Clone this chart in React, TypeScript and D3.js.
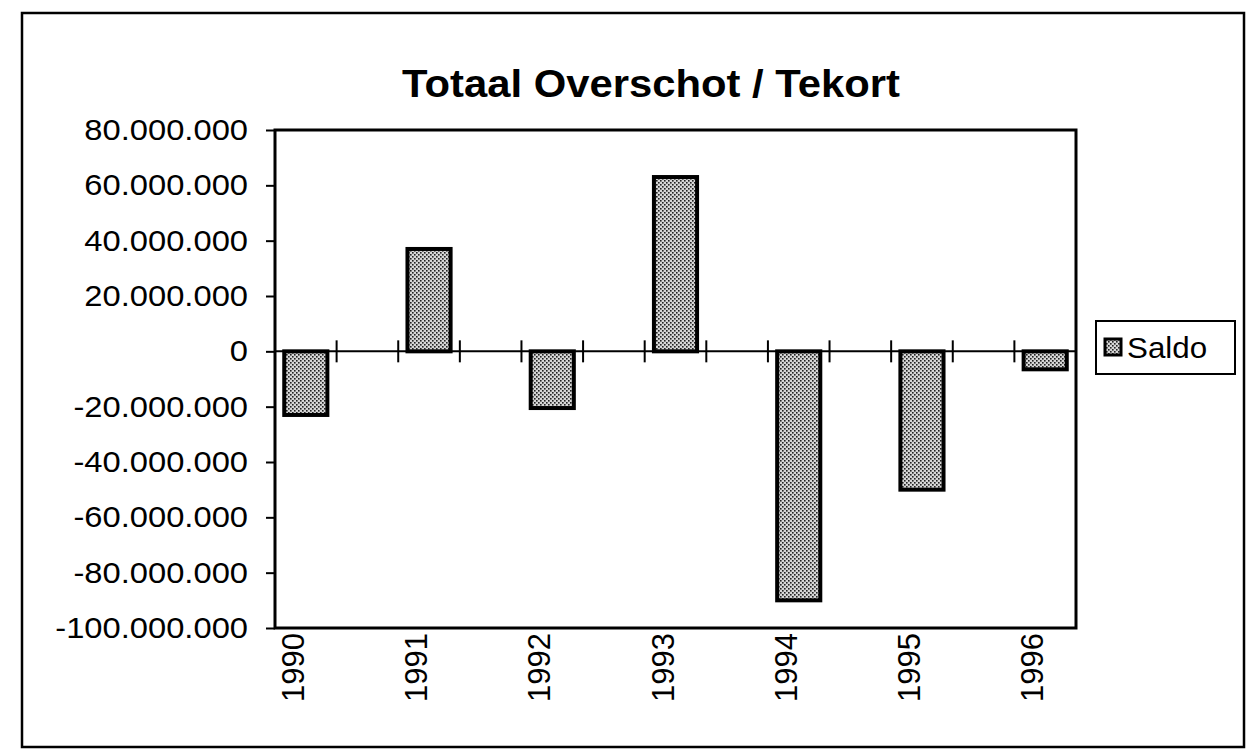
import React, { useEffect, useRef } from "react";
import * as d3 from "d3";

// categories (the sheet has an empty row between every year)
const yearLabels = ["1990", "", "1991", "", "1992", "", "1993", "", "1994", "", "1995", "", "1996"];
const saldo: (number | null)[] = [
  -23000000, null, 37000000, null, -20500000, null, 63000000, null, -90000000, null, -50000000, null, -6500000,
];
const yTicks = [80000000, 60000000, 40000000, 20000000, 0, -20000000, -40000000, -60000000, -80000000, -100000000];
const seriesName = "Saldo";
const chartTitle = "Totaal Overschot / Tekort";

const App = () => {
  const svgRef = useRef<SVGSVGElement>(null);

  useEffect(() => {
    const svg = d3.select(svgRef.current);
    svg.selectAll("*").remove();

    const width = 1252;
    const height = 749;
    const plot = { left: 275, right: 1076, top: 130, bottom: 628 };
    const font = "'Liberation Sans', Arial, sans-serif";

    // the scanned original is a bit wider than the font, stretch text horizontally
    const stretch = (sel: any, f: number) => {
      sel.each(function (this: SVGTextElement) {
        const len = this.getComputedTextLength();
        d3.select(this).attr("textLength", len * f).attr("lengthAdjust", "spacingAndGlyphs");
      });
    };

    // hatch pattern like the old Excel fill
    const defs = svg.append("defs");
    const pat = defs
      .append("pattern")
      .attr("id", "dots")
      .attr("width", 4)
      .attr("height", 4)
      .attr("patternUnits", "userSpaceOnUse");
    pat.append("rect").attr("width", 4).attr("height", 4).attr("fill", "#d6d6d6");
    pat.append("rect").attr("x", 0).attr("y", 0).attr("width", 1.6).attr("height", 1.6).attr("fill", "#222");
    pat.append("rect").attr("x", 2).attr("y", 2).attr("width", 1.6).attr("height", 1.6).attr("fill", "#222");

    svg.append("rect").attr("width", width).attr("height", height).attr("fill", "#fff");

    // outer chart frame
    svg
      .append("rect")
      .attr("x", 22)
      .attr("y", 13)
      .attr("width", 1222)
      .attr("height", 734)
      .attr("fill", "none")
      .attr("stroke", "#000")
      .attr("stroke-width", 2.5);

    // title
    const title = svg
      .append("text")
      .attr("x", 651)
      .attr("y", 97)
      .attr("text-anchor", "middle")
      .style("font-family", font)
      .style("font-weight", "bold")
      .style("font-size", "38px")
      .text(chartTitle);
    stretch(title, 1.1);

    const idx = d3.range(yearLabels.length).map(String);
    const xScale = d3
      .scaleBand()
      .domain(idx)
      .range([plot.left, plot.right])
      .paddingInner(0.3)
      .paddingOuter(0.15);

    const yScale = d3.scaleLinear().domain([-100000000, 80000000]).range([plot.bottom, plot.top]);

    const fmt = (v: number) => d3.format(",")(v).replace(/,/g, ".").replace("\u2212", "-");

    // y axis ticks + labels
    const yAxis = d3
      .axisLeft(yScale)
      .tickValues(yTicks)
      .tickSize(9)
      .tickPadding(18)
      .tickFormat((d) => fmt(d as number));

    const gy = svg.append("g").attr("transform", `translate(${plot.left},0)`).call(yAxis);
    gy.select(".domain").remove();
    gy.selectAll("line").attr("stroke", "#000").attr("stroke-width", 2);
    const yLabels = gy
      .selectAll("text")
      .style("font-family", font)
      .style("font-size", "30px")
      .attr("fill", "#000");
    stretch(yLabels, 1.09);

    // zero line with crossing ticks at category boundaries
    const y0 = yScale(0);
    svg
      .append("line")
      .attr("x1", plot.left)
      .attr("x2", plot.right)
      .attr("y1", y0)
      .attr("y2", y0)
      .attr("stroke", "#000")
      .attr("stroke-width", 2);

    const step = xScale.step();
    svg
      .append("g")
      .selectAll("line")
      .data(d3.range(1, yearLabels.length))
      .enter()
      .append("line")
      .attr("x1", (k) => plot.left + k * step)
      .attr("x2", (k) => plot.left + k * step)
      .attr("y1", y0 - 11)
      .attr("y2", y0 + 11)
      .attr("stroke", "#000")
      .attr("stroke-width", 2);

    // bars
    const barData = saldo.map((v, i) => ({ i: String(i), v })).filter((d) => d.v !== null) as { i: string; v: number }[];
    svg
      .append("g")
      .selectAll("rect")
      .data(barData)
      .enter()
      .append("rect")
      .attr("x", (d) => xScale(d.i)!)
      .attr("y", (d) => yScale(Math.max(0, d.v)))
      .attr("width", xScale.bandwidth())
      .attr("height", (d) => Math.abs(yScale(d.v) - y0))
      .attr("fill", "url(#dots)")
      .attr("stroke", "#000")
      .attr("stroke-width", 4);

    // plot border
    svg
      .append("rect")
      .attr("x", plot.left)
      .attr("y", plot.top)
      .attr("width", plot.right - plot.left)
      .attr("height", plot.bottom - plot.top)
      .attr("fill", "none")
      .attr("stroke", "#000")
      .attr("stroke-width", 3);

    // rotated year labels
    svg
      .append("g")
      .selectAll("text")
      .data(yearLabels.map((l, i) => ({ l, i: String(i) })).filter((d) => d.l !== ""))
      .enter()
      .append("text")
      .attr("transform", (d) => `translate(${xScale(d.i)! + xScale.bandwidth() / 2 - 2},${plot.bottom + 5}) rotate(-90)`)
      .attr("text-anchor", "end")
      .style("font-family", font)
      .style("font-size", "31px")
      .text((d) => d.l);

    // legend
    const lg = svg.append("g").attr("transform", "translate(1096,321)");
    lg.append("rect")
      .attr("width", 139)
      .attr("height", 53)
      .attr("fill", "#fff")
      .attr("stroke", "#000")
      .attr("stroke-width", 2);
    lg.append("rect")
      .attr("x", 9)
      .attr("y", 18)
      .attr("width", 16)
      .attr("height", 16)
      .attr("fill", "url(#dots)")
      .attr("stroke", "#000")
      .attr("stroke-width", 3);
    const lt = lg
      .append("text")
      .attr("x", 31)
      .attr("y", 37)
      .style("font-family", font)
      .style("font-size", "29px")
      .text(seriesName);
    stretch(lt, 1.08);
  }, []);

  return (
    <svg
      ref={svgRef}
      width="1252"
      height="749"
      style={{ position: "absolute", left: 0, top: 0 }}
    ></svg>
  );
};

export default App;
